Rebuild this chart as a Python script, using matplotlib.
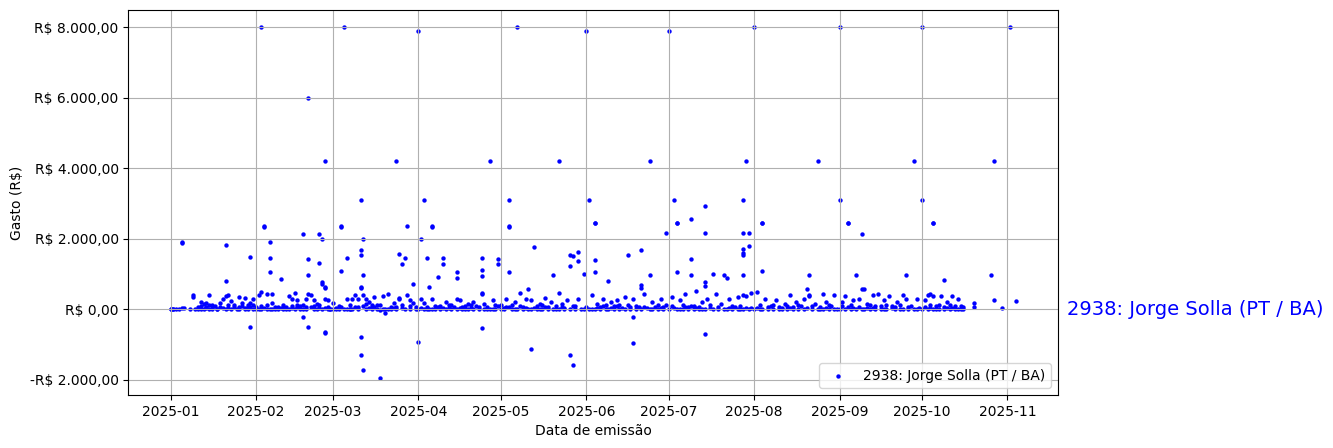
import pandas as pd
import matplotlib
matplotlib.use("Agg")
import matplotlib.pyplot as plt
import matplotlib.dates as mdates
import matplotlib.transforms as mtransforms
from matplotlib.ticker import FuncFormatter, MultipleLocator

# (dia do mes, gasto em R$) por mes de emissao, 2025
gastos_jan = [(1, 0), (1, 10), (2, 0), (2, 5), (3, 0), (4, 20), (5, 45), (5, 1900), (5, 1880), (6, 30),
              (8, 0), (9, 340), (9, 415), (10, 0), (11, 60), (11, 0), (12, 210), (12, 20), (13, 160), (13, 0),
              (14, 70), (14, 190), (15, 130), (15, 415), (15, 10), (16, 0), (16, 40), (17, 85), (18, 20), (18, 0),
              (19, 190), (20, 285), (20, 30), (21, 380), (21, 0), (21, 1810), (21, 790), (22, 110), (22, 415),
              (23, 245), (23, 0), (24, 60), (25, 20), (26, 360), (26, 0), (27, 190), (27, 80), (28, 320), (28, 0),
              (29, 130), (29, 10), (30, 65), (30, 190), (30, 1470), (30, -490), (31, 110), (31, 0), (31, 300),
              (12, 90), (14, 25), (16, 110), (19, 50), (22, 35), (24, 120), (26, 70), (28, 45), (29, 60)]
gastos_fev = [(1, 0), (1, 60), (2, 397), (2, 20), (3, 8000), (3, 492), (3, 0), (4, 2335), (4, 2350), (4, 40),
              (5, 444), (5, 10), (6, 1900), (6, 1450), (6, 1070), (6, 0), (7, 444), (7, 189), (7, 0), (8, 60),
              (9, 0), (10, 870), (10, 30), (11, 113), (11, 0), (12, 0), (12, 60), (13, 378), (13, 10), (14, 302),
              (14, 30), (15, 473), (15, 0), (16, 255), (16, 50), (17, 0), (17, 90), (18, 2130), (18, -207),
              (18, 113), (18, 20), (19, 284), (19, 0), (20, 6000), (20, 1440), (20, 984), (20, -491), (20, 444),
              (21, 397), (21, 60), (22, 255), (22, 0), (23, 0), (23, 150), (24, 2150), (24, 1325), (24, 113),
              (24, 40), (25, 2000), (25, 775), (25, 728), (25, 0), (26, 4200), (26, 605), (26, 634), (26, -681),
              (26, -660), (26, 284), (26, 30), (27, 0), (27, 250), (28, 20), (28, 0),
              (3, 80), (5, 120), (8, 20), (9, 70), (11, 40), (14, 100), (16, 130), (19, 60), (22, 90), (27, 60)]
gastos_mar = [(1, 180), (1, 0), (2, 0), (2, 40), (3, 0), (4, 1078), (4, 2335), (4, 2350), (4, 60), (5, 8000),
              (5, 0), (6, 1466), (6, 284), (6, 0), (7, 20), (7, 0), (8, 284), (8, 0), (9, 416), (9, 50), (10, 284),
              (10, 0), (11, 1694), (11, 1552), (11, 3100), (11, 634), (11, 615), (11, -775), (11, -1285),
              (12, 2000), (12, 984), (12, -1739), (12, 397), (12, 100), (13, 284), (13, 0), (14, 208), (14, 30),
              (15, 132), (15, 0), (16, 66), (16, 350), (17, 113), (17, 0), (18, -1938), (18, -28), (19, 378),
              (19, 0), (20, -95), (20, 20), (21, 444), (21, 20), (22, 66), (22, 0), (23, 189), (24, 4200), (24, 66),
              (24, 0), (25, 322), (25, 284), (25, 1580), (26, 1297), (26, 40), (27, 1467), (27, 0), (28, 2375),
              (28, 397), (29, 257), (29, 0), (30, 729), (30, 189), (31, 19), (31, 60),
              (3, 90), (7, 120), (10, 60), (13, 150), (15, 70), (18, 110), (23, 30), (26, 130), (29, 80)]
gastos_abr = [(1, 7900), (1, -916), (1, 0), (2, 2000), (2, 302), (2, 40), (3, 3100), (3, 189), (3, 0), (4, 1467),
              (4, 66), (5, 644), (5, 0), (6, 2335), (6, 2350), (6, 300), (6, 20), (7, 0), (7, 100), (8, 928), (8, 60),
              (9, 0), (10, 1467), (10, 1297), (10, 40), (11, 0), (11, 200), (12, 120), (13, 0), (14, 60), (15, 1070),
              (15, 900), (15, 300), (15, 0), (16, 250), (16, 30), (17, 0), (18, 80), (18, 0), (19, 160), (20, 30),
              (21, 200), (21, 0), (22, 100), (23, 0), (24, 1467), (24, 1127), (24, 956), (24, -519), (24, 475),
              (24, 440), (25, 150), (25, 0), (26, 60), (27, 4200), (27, 0), (28, 250), (28, 20), (29, 0),
              (30, 1438), (30, 1297), (30, 80),
              (4, 10), (9, 90), (12, 30), (13, 110), (17, 50), (19, 20), (20, 120), (23, 70), (26, 10), (29, 110)]
gastos_mai = [(1, 0), (1, 120), (2, 40), (2, 0), (3, 300), (4, 3100), (4, 2335), (4, 2350), (4, 1070), (4, 60),
              (5, 0), (6, 200), (6, 20), (7, 8000), (7, 0), (8, 450), (8, 80), (9, 0), (10, 300), (10, 30),
              (11, 587), (11, 0), (12, -1115), (12, 250), (13, 1779), (13, 40), (14, 0), (15, 150), (15, 20),
              (16, 0), (17, 330), (17, 60), (18, 0), (19, 200), (20, 984), (20, 0), (21, 90), (22, 4200), (22, 475),
              (22, 0), (23, 150), (24, 0), (24, 30), (25, 260), (26, 1552), (26, 1240), (26, -1285), (26, 0),
              (27, 1523), (27, -1569), (27, 80), (28, 0), (29, 1637), (29, 1382), (29, 300), (30, 20), (31, 1013),
              (31, 0),
              (3, 60), (5, 110), (9, 70), (12, 20), (14, 90), (16, 120), (18, 50), (21, 10), (23, 60), (28, 100)]
gastos_jun = [(1, 7900), (1, 60), (2, 3100), (2, 0), (3, 400), (4, 2449), (4, 2460), (4, 1410), (4, 1070), (4, 0),
              (5, 150), (6, 0), (6, 60), (7, 300), (8, 20), (9, 814), (9, 0), (10, 200), (11, 0), (11, 80),
              (12, 250), (13, 0), (14, 40), (15, 350), (15, 0), (16, 1552), (16, 120), (17, 0), (18, -207),
              (18, -945), (18, 280), (19, 0), (20, 60), (21, 1694), (21, 700), (21, 610), (21, 0), (22, 420),
              (23, 30), (24, 4200), (24, 984), (24, 0), (25, 200), (26, 60), (27, 0), (28, 300), (28, 30), (29, 0),
              (30, 2176), (30, 120),
              (3, 20), (5, 40), (7, 90), (8, 130), (10, 30), (12, 80), (13, 110), (17, 70), (19, 100), (22, 50),
              (25, 20), (27, 110), (29, 70)]
gastos_jul = [(1, 7900), (1, 0), (2, 350), (3, 3100), (3, 40), (4, 2450), (4, 2460), (4, 1070), (4, 0), (5, 250),
              (6, 0), (7, 420), (7, 60), (8, 0), (9, 2573), (9, 1438), (9, 984), (9, 100), (10, 0), (11, 530),
              (11, 30), (12, 0), (13, 200), (14, 2942), (14, 2176), (14, 780), (14, 666), (14, -690), (14, 0),
              (15, 300), (16, 40), (17, 1013), (17, 0), (18, 445), (19, 0), (20, 150), (21, 984), (21, 20),
              (22, 900), (22, 0), (23, 280), (24, 0), (25, 60), (26, 350), (27, 0), (28, 3100), (28, 2176),
              (28, 1722), (28, 1609), (28, 1552), (28, 984), (28, 400), (28, 0), (29, 4200), (29, 370), (29, 30),
              (30, 2176), (30, 1807), (30, 0), (31, 475),
              (2, 80), (5, 20), (6, 120), (8, 60), (10, 90), (12, 50), (13, 20), (16, 110), (19, 70), (23, 40),
              (24, 100), (26, 20), (27, 80), (31, 30)]
gastos_ago = [(1, 8000), (1, 0), (2, 491), (2, 40), (3, 0), (4, 2450), (4, 2460), (4, 1078), (4, 0), (5, 300),
              (6, 0), (7, 80), (8, 0), (9, 250), (10, 20), (11, 0), (12, 150), (13, 0), (14, 416), (14, 30), (15, 0),
              (16, 200), (17, 0), (18, 100), (19, 300), (19, 0), (20, 586), (20, 30), (21, 984), (21, 378),
              (21, 416), (22, 0), (23, 150), (24, 4200), (24, 0), (25, 60), (26, 444), (26, 0), (27, 200), (28, 0),
              (29, 80), (30, 397), (30, 0), (31, 20),
              (3, 110), (6, 60), (8, 120), (10, 70), (11, 40), (13, 90), (15, 50), (17, 130), (22, 80), (25, 10),
              (27, 40), (28, 110)]
gastos_set = [(1, 8000), (1, 3100), (1, 0), (2, 200), (3, 369), (3, 0), (4, 2450), (4, 2460), (4, 60), (5, 0),
              (6, 250), (7, 984), (7, 0), (8, 300), (9, 2147), (9, 587), (9, 20), (10, 586), (10, 0), (11, 150),
              (12, 0), (13, 416), (13, 40), (14, 0), (15, 425), (16, 0), (16, 100), (17, 250), (18, 0), (19, 369),
              (20, 30), (21, 0), (22, 200), (23, 0), (24, 397), (24, 20), (25, 983), (25, 284), (26, 0), (27, 100),
              (28, 4200), (28, 0), (29, 300), (30, 40),
              (2, 90), (5, 120), (6, 40), (8, 70), (11, 30), (12, 110), (14, 80), (17, 20), (18, 130), (20, 100),
              (21, 60), (23, 120), (26, 70), (29, 20)]
gastos_out = [(1, 8000), (1, 3100), (1, 0), (2, 250), (3, 416), (3, 0), (4, 425), (4, 30), (5, 2450), (5, 2460),
              (5, 378), (5, 0), (6, 100), (7, 0), (8, 378), (9, 842), (9, 0), (10, 200), (11, 0), (12, 378),
              (12, 40), (13, 0), (14, 302), (14, 20), (15, 0), (16, 60), (20, 190), (20, 77), (26, 984), (27, 4200),
              (27, 255), (30, 48),
              (2, 60), (4, 130), (6, 20), (7, 110), (9, 70), (10, 30), (11, 120), (13, 80), (15, 100), (16, 10)]
gastos_nov = [(2, 8000), (4, 247)]

meses = [gastos_jan, gastos_fev, gastos_mar, gastos_abr, gastos_mai, gastos_jun,
         gastos_jul, gastos_ago, gastos_set, gastos_out, gastos_nov]
rotulo = "2938: Jorge Solla (PT / BA)"

linhas = []
for m, pares in enumerate(meses, start=1):
    for dia, valor in pares:
        linhas.append((pd.Timestamp(year=2025, month=m, day=dia), valor))
df = pd.DataFrame(linhas, columns=["data", "valor"])


def brl(v, pos=None):
    s = f"{abs(v):,.2f}".replace(",", "X").replace(".", ",").replace("X", ".")
    return f"-R$ {s}" if v < 0 else f"R$ {s}"


fig = plt.figure(figsize=(13.33, 4.48), dpi=100)
ax = fig.add_axes([0.0963, 0.1183, 0.6974, 0.8594])
ax.scatter(df["data"], df["valor"], s=10, color="blue", linewidths=0, label=rotulo)

ax.xaxis.set_major_locator(mdates.MonthLocator())
ax.xaxis.set_major_formatter(mdates.DateFormatter("%Y-%m"))
ax.yaxis.set_major_locator(MultipleLocator(2000))
ax.yaxis.set_major_formatter(FuncFormatter(brl))
ax.set_xlabel("Data de emissão")
ax.set_ylabel("Gasto (R$)")
ax.grid(True)
ax.legend(loc="lower right")

trans = mtransforms.blended_transform_factory(ax.transAxes, ax.transData)
ax.text(1.01, 0, rotulo, transform=trans, color="blue", fontsize=14, va="center", ha="left")

fig.savefig("out.png", dpi=100)
